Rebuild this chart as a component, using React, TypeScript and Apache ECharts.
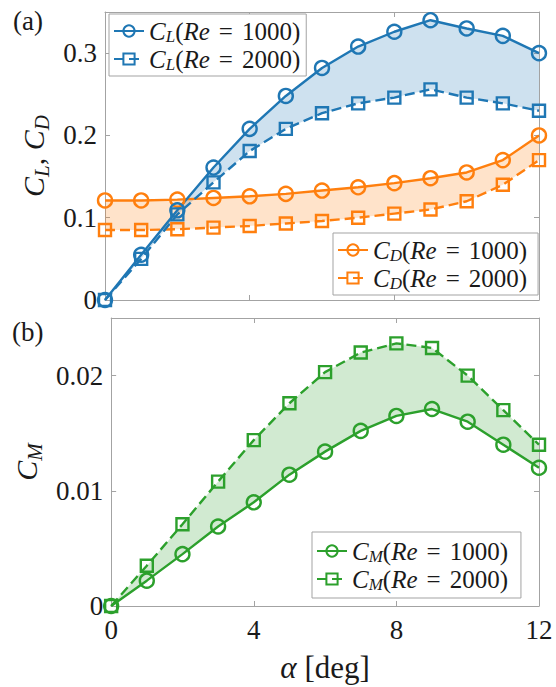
import React, { useEffect, useRef } from 'react';
import * as echarts from 'echarts';

// ---- data ----
const alpha = [0, 1, 2, 3, 4, 5, 6, 7, 8, 9, 10, 11, 12];
const clRe1000 = [0, 0.055, 0.109, 0.161, 0.208, 0.248, 0.282, 0.308, 0.326, 0.340, 0.330, 0.321, 0.300];
const clRe2000 = [0, 0.050, 0.104, 0.143, 0.181, 0.208, 0.227, 0.239, 0.246, 0.256, 0.246, 0.239, 0.230];
const cdRe1000 = [0.121, 0.121, 0.122, 0.124, 0.126, 0.129, 0.133, 0.137, 0.142, 0.148, 0.155, 0.170, 0.200];
const cdRe2000 = [0.085, 0.085, 0.086, 0.088, 0.090, 0.093, 0.096, 0.100, 0.105, 0.110, 0.120, 0.140, 0.170];
const cmRe1000 = [0, 0.0022, 0.0045, 0.0069, 0.0090, 0.0114, 0.0134, 0.0152, 0.0165, 0.0171, 0.0160, 0.0140, 0.0120];
const cmRe2000 = [0, 0.0035, 0.0071, 0.0108, 0.0144, 0.0176, 0.0203, 0.0220, 0.0228, 0.0224, 0.0200, 0.0170, 0.0140];

const legendLabels: Record<string, string> = {
  CL1000: '{c|C}{s|L}{p|(}{c|Re}{eq|=}{p|1000)}',
  CL2000: '{c|C}{s|L}{p|(}{c|Re}{eq|=}{p|2000)}',
  CD1000: '{c|C}{s|D}{p|(}{c|Re}{eq|=}{p|1000)}',
  CD2000: '{c|C}{s|D}{p|(}{c|Re}{eq|=}{p|2000)}',
  CM1000: '{c|C}{s|M}{p|(}{c|Re}{eq|=}{p|1000)}',
  CM2000: '{c|C}{s|M}{p|(}{c|Re}{eq|=}{p|2000)}',
};

const BLUE = '#1f77b4';
const ORANGE = '#ff7f0e';
const GREEN = '#2ca02c';
const FONT = 'Liberation Serif';
const GRAY = '#a3a3a3';
const INK = '#1a1a1a';

const pairs = (ys: number[]) => alpha.map((a, i) => [a, ys[i]]);

function lineSeries(name: string, ys: number[], color: string, dashed: boolean, symbol: string, xi: number, yi: number) {
  return {
    type: 'line',
    name,
    data: pairs(ys),
    xAxisIndex: xi,
    yAxisIndex: yi,
    symbol,
    symbolSize: symbol === 'circle' ? 14 : 12,
    showSymbol: true,
    z: 3,
    silent: true,
    lineStyle: { color, width: 2.4, type: dashed ? [10, 5] : 'solid' },
    itemStyle: { color: 'rgba(255,255,255,0)', borderColor: color, borderWidth: 2.4 },
    emphasis: { disabled: true },
  };
}

// band filled between two curves, drawn through the axis coordinate system
function bandSeries(a: number[], b: number[], color: string, xi: number, yi: number) {
  return {
    type: 'custom',
    xAxisIndex: xi,
    yAxisIndex: yi,
    z: 1,
    silent: true,
    data: [[alpha[0], a[0]]],
    renderItem: (_params: any, api: any) => {
      const top = alpha.map((x, i) => api.coord([x, a[i]]));
      const bottom = alpha.map((x, i) => api.coord([x, b[i]])).reverse();
      return {
        type: 'polygon',
        shape: { points: top.concat(bottom) },
        style: { fill: color, opacity: 0.22 },
      };
    },
  };
}

const axisCommon = {
  type: 'value',
  axisLine: { show: true, onZero: false, lineStyle: { color: GRAY, width: 1 } },
  axisTick: { show: true, inside: true, length: 5, lineStyle: { color: GRAY, width: 1 } },
  splitLine: { show: false },
};

const tickLabel = { fontSize: 27, fontFamily: FONT, color: INK };

const richLegend = {
  c: { fontFamily: FONT, fontStyle: 'italic', fontSize: 25, lineHeight: 26, color: INK },
  s: { fontFamily: FONT, fontStyle: 'italic', fontSize: 17, lineHeight: 10, padding: [11, 0, 0, 0], color: INK },
  p: { fontFamily: FONT, fontSize: 25, lineHeight: 26, color: INK },
  eq: { fontFamily: FONT, fontSize: 25, lineHeight: 26, padding: [0, 9, 0, 9], color: INK },
};

const richAxis = {
  c: { fontFamily: FONT, fontStyle: 'italic', fontSize: 30, lineHeight: 32, color: INK },
  s: { fontFamily: FONT, fontStyle: 'italic', fontSize: 21, lineHeight: 10, padding: [16, 0, 0, 0], color: INK },
  p: { fontFamily: FONT, fontSize: 30, lineHeight: 32, color: INK },
};

const legendCommon = {
  orient: 'vertical',
  itemWidth: 30,
  itemHeight: 14,
  itemGap: 0,
  padding: [3, 6, 3, 4],
  backgroundColor: '#ffffff',
  borderColor: GRAY,
  borderWidth: 1,
  borderRadius: 0,
  selectedMode: false,
  formatter: (n: string) => legendLabels[n],
  textStyle: { color: INK, fontFamily: FONT, rich: richLegend },
};

export default function App() {
  const ref = useRef<HTMLDivElement>(null);
  useEffect(() => {
    if (!ref.current) return;
    const chart = echarts.init(ref.current, undefined, { renderer: 'svg' });
    const option = {
      animation: false,
      backgroundColor: '#ffffff',
      textStyle: { fontFamily: FONT },
      grid: [
        { left: 105, top: 12, width: 434, height: 288 },
        { left: 105, top: 318, width: 434, height: 288 },
      ],
      xAxis: [
        { ...axisCommon, gridIndex: 0, min: 0, max: 12, interval: 4, position: 'bottom', axisLabel: { show: false } },
        { ...axisCommon, gridIndex: 0, min: 0, max: 12, interval: 4, position: 'top', axisLabel: { show: false } },
        {
          ...axisCommon, gridIndex: 1, min: 0, max: 12, interval: 4, position: 'bottom',
          axisLabel: { ...tickLabel, margin: 10 },
          name: '{i|α}{r| [deg]}', nameLocation: 'middle', nameGap: 45,
          nameTextStyle: {
            rich: {
              i: { fontFamily: FONT, fontStyle: 'italic', fontSize: 31, lineHeight: 32, color: INK },
              r: { fontFamily: FONT, fontSize: 31, lineHeight: 32, color: INK },
            },
          },
        },
        { ...axisCommon, gridIndex: 1, min: 0, max: 12, interval: 4, position: 'top', axisLabel: { show: false } },
      ],
      yAxis: [
        {
          ...axisCommon, gridIndex: 0, min: 0, max: 0.35, interval: 0.1, position: 'left',
          axisLabel: { ...tickLabel, margin: 8, showMaxLabel: false, formatter: (v: number) => String(+v.toFixed(3)) },
          name: '{c|C}{s|L}{p|, }{c|C}{s|D}', nameLocation: 'middle', nameRotate: 90, nameGap: 54,
          nameTextStyle: { rich: richAxis },
        },
        { ...axisCommon, gridIndex: 0, min: 0, max: 0.35, interval: 0.1, position: 'right', axisLabel: { show: false } },
        {
          ...axisCommon, gridIndex: 1, min: 0, max: 0.025, interval: 0.01, position: 'left',
          axisLabel: { ...tickLabel, margin: 8, showMaxLabel: false, formatter: (v: number) => String(+v.toFixed(4)) },
          name: '{c|C}{s|M}', nameLocation: 'middle', nameRotate: 90, nameGap: 67,
          nameTextStyle: { rich: richAxis },
        },
        { ...axisCommon, gridIndex: 1, min: 0, max: 0.025, interval: 0.01, position: 'right', axisLabel: { show: false } },
      ],
      legend: [
        { ...legendCommon, data: ['CL1000', 'CL2000'], left: 109, top: 14 },
        { ...legendCommon, data: ['CD1000', 'CD2000'], left: 333, top: 233, padding: [3, 11, 3, 4] },
        { ...legendCommon, data: ['CM1000', 'CM2000'], left: 312, top: 532, padding: [5, 13, 5, 4] },
      ],
      graphic: [
        { type: 'text', x: 13, y: 21, style: { text: '(a)', fontSize: 27, fontFamily: FONT, fill: INK, verticalAlign: 'middle' } },
        { type: 'text', x: 12, y: 332, style: { text: '(b)', fontSize: 27, fontFamily: FONT, fill: INK, verticalAlign: 'middle' } },
      ],
      series: [
        bandSeries(clRe1000, clRe2000, BLUE, 0, 0),
        bandSeries(cdRe1000, cdRe2000, ORANGE, 0, 0),
        bandSeries(cmRe2000, cmRe1000, GREEN, 2, 2),
        lineSeries('CD1000', cdRe1000, ORANGE, false, 'circle', 0, 0),
        lineSeries('CD2000', cdRe2000, ORANGE, true, 'rect', 0, 0),
        lineSeries('CL1000', clRe1000, BLUE, false, 'circle', 0, 0),
        lineSeries('CL2000', clRe2000, BLUE, true, 'rect', 0, 0),
        lineSeries('CM1000', cmRe1000, GREEN, false, 'circle', 2, 2),
        lineSeries('CM2000', cmRe2000, GREEN, true, 'rect', 2, 2),
      ],
    };
    chart.setOption(option as any);
    return () => chart.dispose();
  }, []);
  return (
    <div
      ref={ref}
      style={{ position: 'fixed', left: 0, top: 0, width: 556, height: 687, background: '#fff' }}
    />
  );
}
